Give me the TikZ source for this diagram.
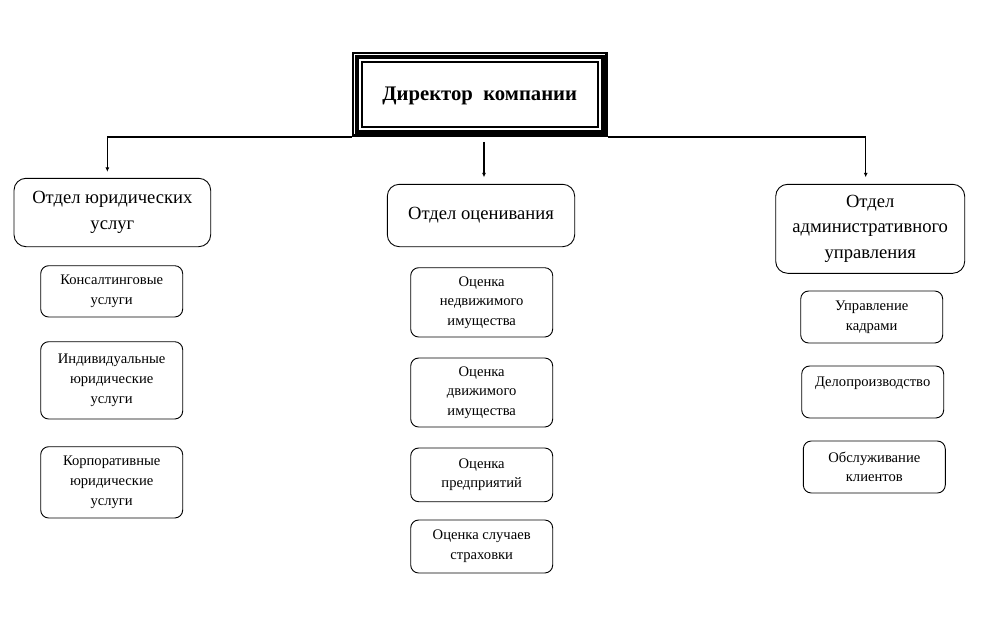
\documentclass[tikz,border=0pt]{standalone}
\usepackage{fontspec}
\setmainfont{Liberation Serif}
\usetikzlibrary{arrows.meta}
\begin{document}
\begin{tikzpicture}[x=1pt,y=-1pt,
  deptbox/.style={draw, rounded corners=12pt, line width=0.9pt, align=center, inner sep=0pt,
    font=\fontsize{18.6}{25.5}\selectfont},
  subbox/.style={draw, rounded corners=8pt, line width=0.9pt, align=center, inner sep=0pt,
    minimum width=142pt, font=\fontsize{14.6}{19.6}\selectfont},
  conn/.style={line width=1.5pt},
  arr/.style={line width=1.3pt, -{Latex[length=4.5pt,width=4pt]}}
]
\useasboundingbox (0,0) rectangle (989,629);

% director
\node[draw, line width=2.5pt, minimum width=253.5pt, minimum height=82.5pt, inner sep=0pt,
  font=\fontsize{20.7}{24}\selectfont\bfseries] (dir) at (479.75,94.25) {\raisebox{-6.5pt}[0pt][0pt]{Директор\ \ компании}};
\draw[line width=4pt] ([shift={(5.5pt,-5.25pt)}]dir.north west) rectangle ([shift={(-5pt,5pt)}]dir.south east);
\draw[line width=1.7pt] ([shift={(10.5pt,-10.25pt)}]dir.north west) rectangle ([shift={(-9.5pt,9.5pt)}]dir.south east);

% departments
\node[deptbox, minimum width=196.7pt, minimum height=68.4pt] (ld) at (112.35,212.5) {Отдел юридических\\услуг};
\node[deptbox, minimum width=187.4pt, minimum height=62.4pt] (cd) at (481,215.5) {Отдел оценивания};
\node[deptbox, minimum width=189pt, minimum height=89pt] (rd) at (870.2,228.8) {Отдел\\административного\\управления};

% connectors
\draw[conn] (dir.south west) -- ([shift={(-5pt,0pt)}]dir.south west -| ld.north);
\draw[arr] ([shift={(-5pt,0pt)}]dir.south west -| ld.north) -- ([shift={(-5pt,6pt)}]ld.north);
\draw[conn] (dir.south east) -- ([shift={(-4.5pt,0pt)}]dir.south east -| rd.north);
\draw[arr] ([shift={(-4.5pt,0pt)}]dir.south east -| rd.north) -- ([shift={(-4.5pt,6.5pt)}]rd.north);
\draw[arr] ([shift={(4.25pt,-5pt)}]dir.south) -- ([shift={(3pt,6.5pt)}]cd.north);

% left column
\node[subbox, minimum height=51.3pt] (l1) at (111.7,291.35) {Консалтинговые\\услуги};
\node[subbox, minimum height=77.3pt] (l2) at (111.7,380.35) {Индивидуальные\\юридические\\услуги};
\node[subbox, minimum height=71.3pt] (l3) at (111.7,482.35) {Корпоративные\\юридические\\услуги};

% centre column
\node[subbox, minimum height=69.3pt] (c1) at (481.7,302.35) {Оценка\\недвижимого\\имущества};
\node[subbox, minimum height=69pt] (c2) at (481.7,392.5) {Оценка\\движимого\\имущества};
\node[subbox, minimum height=53.7pt] (c3) at (481.7,474.85) {Оценка\\предприятий};
\node[subbox, minimum height=53pt] (c4) at (481.7,546.5) {Оценка случаев\\страховки};

% right column
\node[subbox, minimum height=52pt] (r1) at (871.7,317) {Управление\\кадрами};
\node[subbox, minimum height=52pt] (r2) at (872.7,392) {Делопроизводство\\\mbox{}};
\node[subbox, minimum height=52pt] (r3) at (874.3,467) {Обслуживание\\клиентов};
\end{tikzpicture}
\end{document}
